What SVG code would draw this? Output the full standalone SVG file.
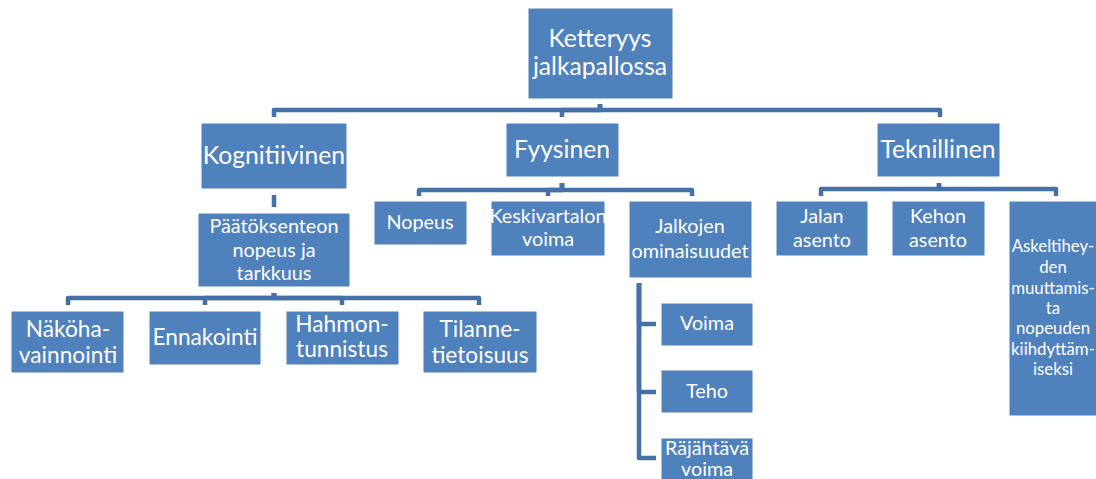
<svg xmlns="http://www.w3.org/2000/svg" width="1096" height="479" viewBox="0 0 1096 479">
<style>
.box{fill:#4F81BD;stroke:#ffffff;stroke-width:1}
.t{font-family:Lato,"Liberation Sans",sans-serif;fill:#ffffff;text-anchor:middle}
.s26{font-size:24.7px}
.s24{font-size:22.7px}
.s21{font-size:19.8px}
.s18{font-size:16.8px}
.c{fill:none;stroke:#4571A8;stroke-width:4.5;stroke-linejoin:round}
</style>
<rect width="1096" height="479" fill="#ffffff"/>
<g id="connectors">
<path class="c" d="M600,104 V110 H274 V117"/>
<path class="c" d="M600,104 V110 H562 V117"/>
<path class="c" d="M600,104 V110 H940 V117"/>
<path class="c" d="M274,195 V207"/>
<path class="c" d="M274,293 V298 H68 V305"/>
<path class="c" d="M274,293 V298 H205 V305"/>
<path class="c" d="M274,293 V298 H342 V305"/>
<path class="c" d="M274,293 V298 H479 V305"/>
<path class="c" d="M562,183 V190 H419 V196"/>
<path class="c" d="M562,183 V190 H548 V196"/>
<path class="c" d="M562,183 V190 H692 V196"/>
<path class="c" d="M939,183 V189 H821 V196"/>
<path class="c" d="M939,183 V189 H1056 V196"/>
<path class="c" d="M639,283 V324 H656"/>
<path class="c" d="M639,283 V392 H656"/>
<path class="c" d="M639,283 V458 H656"/>
</g>
<g id="root"><rect class="box" x="528" y="8" width="145" height="91"/><text class="t s26" x="600" y="47">Ketteryys</text><text class="t s26" x="600" y="75">jalkapallossa</text></g>
<g id="kognitiivinen"><rect class="box" x="201" y="123" width="146" height="66"/><text class="t s26" x="274" y="164">Kognitiivinen</text></g>
<g id="fyysinen"><rect class="box" x="506" y="123" width="113" height="54"/><text class="t s26" x="562" y="158">Fyysinen</text></g>
<g id="teknillinen"><rect class="box" x="877" y="123" width="123" height="54"/><text class="t s26" x="938" y="158">Teknillinen</text></g>
<g id="paatoksenteon"><rect class="box" x="198" y="213" width="152" height="74"/><text class="t s21" x="274" y="233">Päätöksenteon</text><text class="t s21" x="274" y="257">nopeus ja</text><text class="t s21" x="274" y="280">tarkkuus</text></g>
<g id="nakohavainnointi"><rect class="box" x="11" y="311" width="113" height="62"/><text class="t s24" x="68" y="337">Näköha-</text><text class="t s24" x="68" y="363">vainnointi</text></g>
<g id="ennakointi"><rect class="box" x="149" y="311" width="112" height="54"/><text class="t s24" x="205" y="345">Ennakointi</text></g>
<g id="hahmontunnistus"><rect class="box" x="286" y="311" width="113" height="54"/><text class="t s24" x="342" y="332">Hahmon-</text><text class="t s24" x="342" y="357">tunnistus</text></g>
<g id="tilannetietoisuus"><rect class="box" x="423" y="311" width="114" height="62"/><text class="t s24" x="480" y="337">Tilanne-</text><text class="t s24" x="480" y="363">tietoisuus</text></g>
<g id="nopeus"><rect class="box" x="374" y="201" width="93" height="44"/><text class="t s21" x="420" y="229">Nopeus</text></g>
<g id="keskivartalon"><rect class="box" x="491" y="201" width="114" height="55"/><text class="t s21" x="548" y="223">Keskivartalon</text><text class="t s21" x="548" y="246">voima</text></g>
<g id="jalkojen"><rect class="box" x="629" y="201" width="123" height="77"/><text class="t s21" x="690" y="233">Jalkojen</text><text class="t s21" x="690" y="258">ominaisuudet</text></g>
<g id="voima"><rect class="box" x="661" y="303" width="92" height="43"/><text class="t s21" x="707" y="330">Voima</text></g>
<g id="teho"><rect class="box" x="661" y="370" width="92" height="43"/><text class="t s21" x="707" y="398">Teho</text></g>
<g id="rajahtava"><rect class="box" x="661" y="438" width="92" height="50"/><text class="t s21" x="707" y="455">Räjähtävä</text><text class="t s21" x="707" y="476">voima</text></g>
<g id="jalan"><rect class="box" x="776" y="201" width="92" height="55"/><text class="t s21" x="822" y="223">Jalan</text><text class="t s21" x="822" y="247">asento</text></g>
<g id="kehon"><rect class="box" x="892" y="201" width="93" height="55"/><text class="t s21" x="938" y="223">Kehon</text><text class="t s21" x="938" y="247">asento</text></g>
<g id="askeltiheyden"><rect class="box" x="1009" y="201" width="94" height="215"/>
<text class="t s18" x="1053" y="252">Askeltihey-</text><text class="t s18" x="1053" y="273">den</text><text class="t s18" x="1053" y="294">muuttamis-</text><text class="t s18" x="1053" y="314">ta</text><text class="t s18" x="1053" y="334">nopeuden</text><text class="t s18" x="1053" y="355">kiihdyttäm-</text><text class="t s18" x="1053" y="375">iseksi</text></g>
</svg>
